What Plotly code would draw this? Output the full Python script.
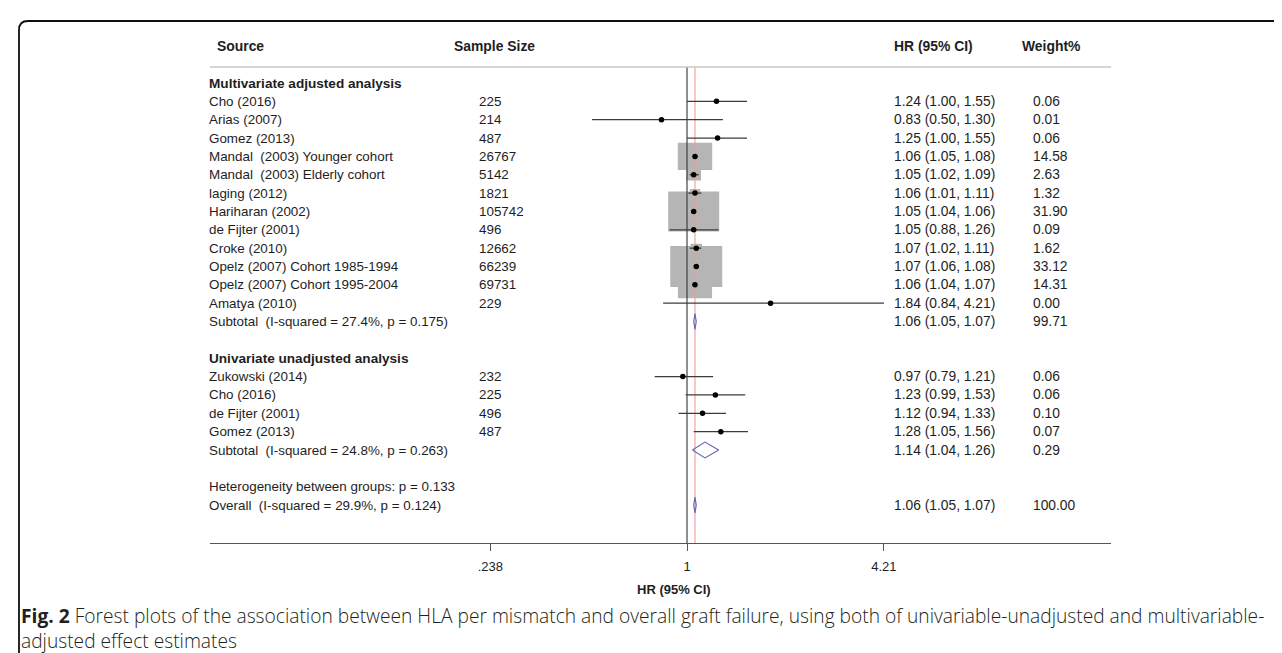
import math
import plotly.graph_objects as go

# ---------------- data ----------------
g1_labels = ["Cho (2016)", "Arias (2007)", "Gomez (2013)",
             "Mandal\u00a0 (2003) Younger cohort", "Mandal\u00a0 (2003) Elderly cohort",
             "laging (2012)", "Hariharan (2002)", "de Fijter (2001)", "Croke (2010)",
             "Opelz (2007) Cohort 1985-1994", "Opelz (2007) Cohort 1995-2004", "Amatya (2010)"]
g1_n = [225, 214, 487, 26767, 5142, 1821, 105742, 496, 12662, 66239, 69731, 229]
g1_hr = [1.24, 0.83, 1.25, 1.06, 1.05, 1.06, 1.05, 1.05, 1.07, 1.07, 1.06, 1.84]
g1_lo = [1.00, 0.50, 1.00, 1.05, 1.02, 1.01, 1.04, 0.88, 1.02, 1.06, 1.04, 0.84]
g1_hi = [1.55, 1.30, 1.55, 1.08, 1.09, 1.11, 1.06, 1.26, 1.11, 1.08, 1.07, 4.21]
g1_w = [0.06, 0.01, 0.06, 14.58, 2.63, 1.32, 31.90, 0.09, 1.62, 33.12, 14.31, 0.00]
g1_sub = ("Subtotal\u00a0 (I-squared = 27.4%, p = 0.175)", 1.06, 1.05, 1.07, 99.71)

g2_labels = ["Zukowski (2014)", "Cho (2016)", "de Fijter (2001)", "Gomez (2013)"]
g2_n = [232, 225, 496, 487]
g2_hr = [0.97, 1.23, 1.12, 1.28]
g2_lo = [0.79, 0.99, 0.94, 1.05]
g2_hi = [1.21, 1.53, 1.33, 1.56]
g2_w = [0.06, 0.06, 0.10, 0.07]
g2_sub = ("Subtotal\u00a0 (I-squared = 24.8%, p = 0.263)", 1.14, 1.04, 1.26, 0.29)

group_titles = ["Multivariate adjusted analysis", "Univariate unadjusted analysis"]
heterogeneity_text = "Heterogeneity between groups: p = 0.133"
overall = ("Overall\u00a0 (I-squared = 29.9%, p = 0.124)", 1.06, 1.05, 1.07, 100.00)

x_tickvals = [0.238, 1, 4.21]
x_ticktext = [".238", "1", "4.21"]
col_headers = ["Source", "Sample Size", "HR (95% CI)", "Weight%"]
axis_title = "HR (95% CI)"
caption = ("<b>Fig. 2</b> Forest plots of the association between HLA per mismatch and overall graft failure, "
           "using both of univariable-unadjusted and multivariable-<br>adjusted effect estimates")

# ---------------- geometry (pixels) ----------------
W, H = 1282, 653
PL, PR, PT, PB = 202, 1103, 59, 535          # plot area in pixels
ROW0, ROWH = 75, 18.35                        # first row centre & row height
X1_PX, KPX = 679, 137.0                       # pixel of HR=1, pixels per ln unit

def py2row(py):
    return (py - ROW0) / ROWH

def px2paper(px):
    return (px - PL) / (PR - PL)

def pyy2paper(py):
    return (PB - py) / (PB - PT)

x_lo = math.log10(math.exp((PL - X1_PX) / KPX))
x_hi = math.log10(math.exp((PR - X1_PX) / KPX))

# ---------------- row layout ----------------
rows = []   # (row, kind, label, n, hr, lo, hi, w)
r = 0
rows.append((r, "title", group_titles[0], None, None, None, None, None)); r += 1
for i in range(len(g1_labels)):
    rows.append((r, "study", g1_labels[i], g1_n[i], g1_hr[i], g1_lo[i], g1_hi[i], g1_w[i])); r += 1
rows.append((r, "sub", g1_sub[0], None, *g1_sub[1:])); r += 2
rows.append((r, "title", group_titles[1], None, None, None, None, None)); r += 1
for i in range(len(g2_labels)):
    rows.append((r, "study", g2_labels[i], g2_n[i], g2_hr[i], g2_lo[i], g2_hi[i], g2_w[i])); r += 1
rows.append((r, "sub", g2_sub[0], None, *g2_sub[1:])); r += 2
rows.append((r, "het", heterogeneity_text, None, None, None, None, None)); r += 1
rows.append((r, "sub", overall[0], None, *overall[1:]))

y_top, y_bot = py2row(PT), py2row(PB)

fig = go.Figure()

# weight boxes
bx, by = [], []
for (row, kind, lab, n, hr, lo, hi, w) in rows:
    if kind == "study" and w > 0:
        half_w = 9.03 * math.sqrt(w) / 2 / KPX
        half_h = 7.1 * math.sqrt(w) / 2 / ROWH
        a, b = hr * math.exp(-half_w), hr * math.exp(half_w)
        bx += [a, b, b, a, a, None]
        by += [row - half_h, row - half_h, row + half_h, row + half_h, row - half_h, None]
fig.add_trace(go.Scatter(x=bx, y=by, mode="lines", fill="toself", fillcolor="#b5b5b5",
                         line=dict(width=0, color="#b5b5b5"), hoverinfo="skip"))

# null line and overall line
fig.add_trace(go.Scatter(x=[1, 1], y=[y_top, y_bot], mode="lines",
                         line=dict(color="#333333", width=1.1), hoverinfo="skip"))
fig.add_trace(go.Scatter(x=[overall[1], overall[1]], y=[y_top, y_bot], mode="lines",
                         line=dict(color="#f29a9a", width=1.1), hoverinfo="skip"))

# CI lines
cx, cy = [], []
for (row, kind, lab, n, hr, lo, hi, w) in rows:
    if kind == "study":
        cx += [lo, hi, None]
        cy += [row, row, None]
fig.add_trace(go.Scatter(x=cx, y=cy, mode="lines", line=dict(color="#3c3c3c", width=1.3),
                         hoverinfo="skip"))

# point estimates
px_, py_ = [], []
for (row, kind, lab, n, hr, lo, hi, w) in rows:
    if kind == "study":
        px_.append(hr); py_.append(row)
fig.add_trace(go.Scatter(x=px_, y=py_, mode="markers",
                         marker=dict(color="black", size=5.5), hoverinfo="skip"))

# diamonds
dx, dy = [], []
dh = 0.43
for (row, kind, lab, n, hr, lo, hi, w) in rows:
    if kind == "sub":
        dx += [lo, hr, hi, hr, lo, None]
        dy += [row, row - dh, row, row + dh, row, None]
fig.add_trace(go.Scatter(x=dx, y=dy, mode="lines", line=dict(color="#6464b4", width=1.1),
                         hoverinfo="skip"))

# ---------------- text ----------------
FONT = "Arial, Liberation Sans, sans-serif"
TXT = "#1e1e1e"
ann = []

def add_text(px, row, text, bold=False, size=13.4, anchor="left"):
    ann.append(dict(x=px2paper(px), y=row, xref="paper", yref="y", text=(f"<b>{text}</b>" if bold else text),
                    showarrow=False, xanchor=anchor, yanchor="middle",
                    font=dict(family=FONT, size=size, color=TXT), borderpad=0, borderwidth=0))

def add_header(px, text):
    ann.append(dict(x=px2paper(px), y=pyy2paper(38), xref="paper", yref="paper", text=f"<b>{text}</b>",
                    showarrow=False, xanchor="left", yanchor="middle",
                    font=dict(family=FONT, size=13.9, color=TXT), borderpad=0, borderwidth=0))

add_header(209, col_headers[0])
add_header(446, col_headers[1])
add_header(886, col_headers[2])
add_header(1014, col_headers[3])

for (row, kind, lab, n, hr, lo, hi, w) in rows:
    if kind == "title":
        add_text(201, row, lab, bold=True, size=13.6)
    else:
        add_text(201, row, lab)
    if n is not None:
        add_text(471, row, str(n))
    if hr is not None:
        add_text(886, row, f"{hr:.2f} ({lo:.2f}, {hi:.2f})", size=13.8)
        add_text(1025, row, f"{w:.2f}", size=13.8)

# axis title
ann.append(dict(x=px2paper(666), y=pyy2paper(581), xref="paper", yref="paper",
                text=f"<b>{axis_title}</b>", showarrow=False, xanchor="center", yanchor="middle",
                font=dict(family=FONT, size=13, color=TXT)))

# caption (two lines, one text block)
CAPFONT = "Open Sans, Noto Sans, sans-serif"
ann.append(dict(x=px2paper(13), y=pyy2paper(620), xref="paper", yref="paper", text=caption,
                showarrow=False, xanchor="left", yanchor="middle", align="left",
                font=dict(family=CAPFONT, size=19.2, color="#231f20", weight=300),
                borderpad=0, borderwidth=0))

# ---------------- shapes ----------------
def P(px, py):
    return f"{px2paper(px):.5f},{pyy2paper(py):.5f}"

shapes = [
    # header separator
    dict(type="line", xref="paper", yref="paper", x0=0, x1=1, y0=1, y1=1,
         line=dict(color="#c8c8c8", width=1.5)),
    # outer frame (rounded top-left corner)
    dict(type="path", xref="paper", yref="paper",
         path=f"M {P(11, 653)} L {P(11, 22)} Q {P(11, 13)} {P(20, 13)} L {P(1282, 13)}",
         line=dict(color="#111111", width=1.8)),
]

fig.update_layout(
    width=W, height=H,
    margin=dict(l=PL, r=W - PR, t=PT, b=H - PB),
    paper_bgcolor="white", plot_bgcolor="white",
    showlegend=False,
    annotations=ann, shapes=shapes,
    xaxis=dict(type="log", range=[x_lo, x_hi], tickvals=x_tickvals, ticktext=x_ticktext,
               showgrid=False, zeroline=False, showline=True, linecolor="#555555", linewidth=1.3,
               ticks="outside", ticklen=7, tickwidth=1.2, tickcolor="#555555",
               tickfont=dict(family=FONT, size=13, color=TXT), ticklabelstandoff=4),
    yaxis=dict(range=[y_bot, y_top], showgrid=False, zeroline=False, showline=False,
               showticklabels=False, ticks=""),
)

fig.write_html("out.html")
